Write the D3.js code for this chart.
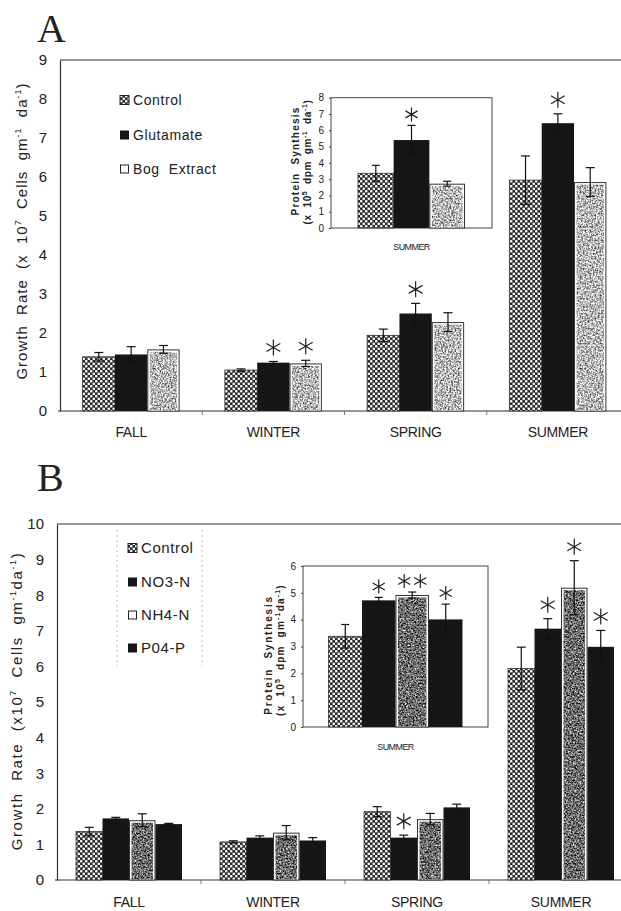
<!DOCTYPE html>
<html>
<head>
<meta charset="utf-8">
<script src="https://cdn.jsdelivr.net/npm/d3@7"></script>
<style>
  body { margin: 0; background: #fff; }
  svg { display: block; font-family: "Liberation Sans", Arial, sans-serif; }
  text { white-space: pre; fill: #222; }
</style>
</head>
<body>
<svg id="fig" width="621" height="911"></svg>
<script>
// ---- data ----
const seasons = ["FALL", "WINTER", "SPRING", "SUMMER"];
const summerOnly = ["SUMMER"];

// panel A
const namesA = ["Control", "Glutamate", "Bog  Extract"];
const controlA = [1.39, 1.05, 1.94, 5.92];
const controlErrA = [0.11, 0.03, 0.16, 0.62];
const glutamateA = [1.45, 1.24, 2.50, 7.38];
const glutamateErrA = [0.20, 0.03, 0.26, 0.24];
const bogA = [1.58, 1.22, 2.28, 5.87];
const bogErrA = [0.10, 0.08, 0.24, 0.37];
const starsA = [[0, 0, 0], [0, 1, 1], [0, 1, 0], [0, 1, 0]];
const yTicksA = [0, 1, 2, 3, 4, 5, 6, 7, 8, 9];

// panel A inset (protein synthesis, summer)
const insetMeansA = [3.36, 5.40, 2.72];
const insetErrsA = [0.49, 0.90, 0.15];
const insetStarsA = [[0, 1, 0]];
const insetTicksA = [0, 1, 2, 3, 4, 5, 6, 7, 8];

// panel B
const namesB = ["Control", "NO3-N", "NH4-N", "P04-P"];
const controlB = [1.36, 1.07, 1.92, 5.94];
const controlErrB = [0.12, 0.03, 0.14, 0.60];
const no3B = [1.73, 1.19, 1.19, 7.06];
const no3ErrB = [0.03, 0.05, 0.07, 0.28];
const nh4B = [1.68, 1.33, 1.71, 8.21];
const nh4ErrB = [0.18, 0.20, 0.16, 0.76];
const po4B = [1.57, 1.11, 2.04, 6.55];
const po4ErrB = [0.02, 0.08, 0.09, 0.46];
const starsB = [[0, 0, 0, 0], [0, 0, 0, 0], [0, 1, 0, 0], [0, 1, 1, 1]];
const yTicksB = [0, 1, 2, 3, 4, 5, 6, 7, 8, 9, 10];

// panel B inset
const insetMeansB = [3.38, 4.72, 4.92, 4.01];
const insetErrsB = [0.44, 0.11, 0.11, 0.57];
const insetStarsB = [[0, 1, 2, 1]];
const insetTicksB = [0, 1, 2, 3, 4, 5, 6];

const stylesA = ["check", "solid", "speckLight"];
const stylesB = ["check", "solid", "speckDark", "solid"];

var svg = d3.select("#fig");
var defs = svg.append("defs");

// crosshatch-ish texture for the control bars
var pat = defs.append("pattern").attr("id", "check")
  .attr("patternUnits", "userSpaceOnUse").attr("width", 5).attr("height", 5);
pat.append("rect").attr("width", 5).attr("height", 5).attr("fill", "#2a2a2a");
pat.append("circle").attr("cx", 1.25).attr("cy", 1.25).attr("r", 1.35).attr("fill", "#f4f4f4");
pat.append("circle").attr("cx", 3.75).attr("cy", 3.75).attr("r", 1.35).attr("fill", "#f4f4f4");

// speckled grey for bog extract / NH4
function speckFilter(id, gain, offset, seed) {
  var f = defs.append("filter").attr("id", id)
    .attr("x", 0).attr("y", 0).attr("width", 1).attr("height", 1)
    .attr("color-interpolation-filters", "sRGB");
  f.append("feTurbulence").attr("type", "fractalNoise")
    .attr("baseFrequency", 0.6).attr("numOctaves", 3).attr("seed", seed);
  var row = gain + " 0 0 0 " + offset;
  f.append("feColorMatrix").attr("type", "matrix")
    .attr("values", row + " " + row + " " + row + " 0 0 0 0 1");
  f.append("feComposite").attr("in2", "SourceGraphic").attr("operator", "in");
}
speckFilter("speckLight", 1.6, -0.08, 3);
speckFilter("speckDark", 1.6, -0.38, 7);

function asterisk(g, cx, cy, r) {
  var p = "";
  [90, 30, 150].forEach(function(a) {
    var dx = r * Math.cos(a * Math.PI / 180), dy = r * Math.sin(a * Math.PI / 180);
    p += "M" + (cx - dx) + "," + (cy - dy) + "L" + (cx + dx) + "," + (cy + dy);
  });
  g.append("path").attr("d", p).attr("stroke", "#222").attr("stroke-width", 1.2).attr("fill", "none");
}

function drawBar(g, style, x, y, w, h) {
  if (style == "check") {
    g.append("rect").attr("x", x).attr("y", y).attr("width", w).attr("height", h)
      .attr("fill", "url(#check)").attr("stroke", "#333").attr("stroke-width", 0.8);
  } else if (style == "solid") {
    g.append("rect").attr("x", x).attr("y", y).attr("width", w).attr("height", h)
      .attr("fill", "#161616");
  } else {
    g.append("rect").attr("x", x + 0.5).attr("y", y + 0.5).attr("width", w - 1).attr("height", h - 0.5)
      .attr("fill", "#fff").attr("stroke", "#333").attr("stroke-width", 1);
    g.append("rect").attr("x", x + 2.5).attr("y", y + 2.5).attr("width", w - 5).attr("height", Math.max(0, h - 3))
      .attr("fill", "#888").attr("filter", "url(#" + style + ")");
  }
}

// series: [{values, errs, style}], stars[cat][series]
function drawGroups(g, cats, series, stars, xScale, yScale, opt) {
  var inner = d3.scaleBand().domain(d3.range(series.length)).range([0, xScale.bandwidth()]);
  cats.forEach(function(c, ci) {
    series.forEach(function(s, si) {
      var bx = xScale(c) + inner(si), bw = inner.bandwidth();
      var v = s.values[ci], e = s.errs[ci];
      drawBar(g, s.style, bx, yScale(v), bw, yScale(0) - yScale(v));
      var cx = bx + bw / 2;
      var eb = g.append("g").attr("stroke", "#111").attr("stroke-width", 1.2);
      eb.append("line").attr("x1", cx).attr("x2", cx).attr("y1", yScale(v - e)).attr("y2", yScale(v + e));
      [v - e, v + e].forEach(function(t) {
        eb.append("line").attr("x1", cx - opt.cap).attr("x2", cx + opt.cap)
          .attr("y1", yScale(t)).attr("y2", yScale(t));
      });
      var n = stars[ci][si];
      for (var k = 0; k < n; k++) {
        var off = (k - (n - 1) / 2) * opt.starR * 2.3;
        asterisk(g, cx + off, yScale(v + e) - opt.starGap, opt.starR);
      }
    });
  });
}

// text with superscripts; the baseline drop rides on the next normal run
function richText(sel, parts, supSize, rise) {
  var pending = 0;
  parts.forEach(function(p) {
    var t = sel.append("tspan").text(p[0]);
    if (p[1]) {
      t.attr("dy", pending - rise).attr("font-size", supSize);
      pending = rise;
    } else {
      if (pending) t.attr("dy", pending);
      pending = 0;
    }
  });
}

function mainPanel(cfg) {
  var g = svg.append("g");
  var y = d3.scaleLinear().domain([0, cfg.ymax]).range([cfg.y0, cfg.y1]);
  var x = d3.scaleBand().domain(seasons).range(cfg.xr)
    .paddingInner(cfg.pad).paddingOuter(cfg.pad / 2);
  var ax = cfg.xr[0];

  g.append("text").attr("x", cfg.letterX).attr("y", cfg.letterY)
    .attr("font-family", "'Liberation Serif', 'DejaVu Serif', serif")
    .attr("font-size", 40).text(cfg.letter);

  // frame: top border, x axis line, boundary ticks
  g.append("line").attr("x1", ax).attr("x2", 621).attr("y1", y(cfg.ymax)).attr("y2", y(cfg.ymax))
    .attr("stroke", "#333").attr("stroke-width", 1.2);
  g.append("line").attr("x1", ax - 2).attr("x2", 621).attr("y1", y(0)).attr("y2", y(0))
    .attr("stroke", "#333").attr("stroke-width", 1.2);
  for (var i = 1; i < seasons.length; i++) {
    var bx = cfg.xr[0] + i * x.step();
    g.append("line").attr("x1", bx).attr("x2", bx).attr("y1", y(0)).attr("y2", y(0) + 4)
      .attr("stroke", "#777");
  }

  var yAxis = g.append("g").attr("transform", "translate(" + ax + ",0)")
    .call(d3.axisLeft(y).tickValues(cfg.ticks).tickSize(0).tickPadding(13).tickFormat(d3.format("d")));
  yAxis.select(".domain").attr("stroke", "#333").attr("stroke-width", 1.2);
  yAxis.selectAll("text").attr("font-size", 15).attr("fill", "#333")
    .attr("font-family", "'Liberation Sans', Arial, sans-serif");

  g.selectAll(".cat").data(seasons).enter().append("text")
    .attr("x", function(d) { return x(d) + x.bandwidth() / 2; })
    .attr("y", cfg.catY).attr("text-anchor", "middle")
    .attr("font-size", 14).attr("letter-spacing", -0.3).text(function(d) { return d; });

  var yl = g.append("text").attr("transform", "translate(" + cfg.ylx + "," + cfg.yly + ") rotate(-90)")
    .attr("text-anchor", "middle").attr("font-size", 15).attr("letter-spacing", cfg.ysp);
  richText(yl, cfg.ylabel, 9, 6);

  drawGroups(g.append("g"), seasons, cfg.series, cfg.stars, x, y, { cap: 4.5, starR: 8, starGap: 14 });

  // legend
  var lg = g.append("g");
  if (cfg.legendBox) {
    cfg.legendBox.forEach(function(lx) {
      lg.append("line").attr("x1", lx).attr("x2", lx).attr("y1", cfg.legendBoxY[0]).attr("y2", cfg.legendBoxY[1])
        .attr("stroke", "#bbb").attr("stroke-dasharray", "2,3");
    });
  }
  cfg.names.forEach(function(nm, i) {
    var yy = cfg.legendY[i];
    var st = cfg.series[i].style;
    var s = cfg.swatch;
    if (st == "check") {
      lg.append("rect").attr("x", cfg.legendX).attr("y", yy - s / 2).attr("width", s).attr("height", s)
        .attr("fill", "url(#check)").attr("stroke", "#222");
    } else if (st == "solid") {
      lg.append("rect").attr("x", cfg.legendX).attr("y", yy - s / 2).attr("width", s).attr("height", s)
        .attr("fill", "#161616");
    } else {
      lg.append("rect").attr("x", cfg.legendX + 0.5).attr("y", yy - s / 2 + 0.5).attr("width", s - 1).attr("height", s - 1)
        .attr("fill", "#fff").attr("stroke", "#222");
    }
    lg.append("text").attr("x", cfg.legendX + s + 4).attr("y", yy + 5)
      .attr("font-size", cfg.legendFont).attr("letter-spacing", 0.6).text(nm);
  });
  return g;
}

function insetPanel(cfg) {
  var g = svg.append("g");
  var y = d3.scaleLinear().domain([0, cfg.ymax]).range([cfg.y0, cfg.y1]);
  var x = d3.scaleBand().domain(summerOnly).range(cfg.xr)
    .paddingInner(cfg.pad).paddingOuter(cfg.pad / 2);

  g.append("rect").attr("x", cfg.xr[0]).attr("y", cfg.y1).attr("width", cfg.xr[1] - cfg.xr[0])
    .attr("height", cfg.y0 - cfg.y1).attr("fill", "#fff").attr("stroke", "#444").attr("stroke-width", 1);

  var yAxis = g.append("g").attr("transform", "translate(" + cfg.xr[0] + ",0)")
    .call(d3.axisLeft(y).tickValues(cfg.ticks).tickSize(2).tickPadding(5).tickFormat(d3.format("d")));
  yAxis.select(".domain").remove();
  yAxis.selectAll("line").attr("stroke", "#444");
  yAxis.selectAll("text").attr("font-size", 10).attr("fill", "#444");

  drawGroups(g.append("g"), summerOnly, cfg.series, cfg.stars, x, y, { cap: 4, starR: 7, starGap: 11 });

  g.append("text").attr("x", x("SUMMER") + x.bandwidth() / 2).attr("y", cfg.catY)
    .attr("text-anchor", "middle").attr("font-size", 9).attr("letter-spacing", -0.6).text("SUMMER");

  g.append("text").attr("transform", "translate(" + cfg.lx1 + "," + cfg.c1 + ") rotate(-90)")
    .attr("text-anchor", "middle").attr("font-size", 10).attr("font-weight", "bold")
    .attr("letter-spacing", cfg.sp1).text("Protein  Synthesis");
  var l2 = g.append("text").attr("transform", "translate(" + cfg.lx2 + "," + cfg.c2 + ") rotate(-90)")
    .attr("text-anchor", "middle").attr("font-size", 10).attr("font-weight", "bold")
    .attr("letter-spacing", cfg.sp2);
  richText(l2, cfg.label2, 7, 4);
}

mainPanel({
  letter: "A", letterX: 37, letterY: 42,
  ymax: 9, y0: 411, y1: 60, xr: [60, 629], pad: 0.318, ticks: yTicksA, catY: 437,
  ylx: 27, yly: 231, ysp: 1,
  ylabel: [["Growth  Rate  (x  10"], ["7", true], ["  Cells  gm"], ["-1", true], ["  da"], ["-1", true], [")"]],
  series: [
    { values: controlA, errs: controlErrA, style: stylesA[0] },
    { values: glutamateA, errs: glutamateErrA, style: stylesA[1] },
    { values: bogA, errs: bogErrA, style: stylesA[2] }
  ],
  stars: starsA, names: namesA,
  legendX: 120, legendY: [100, 135, 169], swatch: 9, legendFont: 14
});

insetPanel({
  ymax: 8, y0: 228, y1: 97.7, xr: [331, 492], pad: 0.335, ticks: insetTicksA, catY: 250,
  lx1: 299, lx2: 311, c1: 161, c2: 162, sp1: 1.2, sp2: 0.6,
  label2: [["(x  10"], ["5", true], ["  dpm  gm"], ["-1", true], ["  da"], ["-1", true], [")"]],
  series: [0, 1, 2].map(function(i) {
    return { values: [insetMeansA[i]], errs: [insetErrsA[i]], style: stylesA[i] };
  }),
  stars: insetStarsA
});

mainPanel({
  letter: "B", letterX: 37, letterY: 491,
  ymax: 10, y0: 880, y1: 524, xr: [57, 633], pad: 0.264, ticks: yTicksB, catY: 907,
  ylx: 22, yly: 701, ysp: 1.6,
  ylabel: [["Growth  Rate  (x10"], ["7", true], ["  Cells  gm"], ["-1", true], ["da"], ["-1", true], [")"]],
  series: [
    { values: controlB, errs: controlErrB, style: stylesB[0] },
    { values: no3B, errs: no3ErrB, style: stylesB[1] },
    { values: nh4B, errs: nh4ErrB, style: stylesB[2] },
    { values: po4B, errs: po4ErrB, style: stylesB[3] }
  ],
  stars: starsB, names: namesB,
  legendX: 128, legendY: [548, 582, 615, 648], swatch: 9, legendFont: 15,
  legendBox: [117, 202], legendBoxY: [530, 666]
});

insetPanel({
  ymax: 6, y0: 727, y1: 566, xr: [303, 488], pad: 0.276, ticks: insetTicksB, catY: 750,
  lx1: 272, lx2: 284, c1: 655, c2: 650, sp1: 1.8, sp2: 1.2,
  label2: [["(x  10"], ["5", true], ["  dpm  gm"], ["-1", true], ["da"], ["-1", true], [")"]],
  series: [0, 1, 2, 3].map(function(i) {
    return { values: [insetMeansB[i]], errs: [insetErrsB[i]], style: stylesB[i] };
  }),
  stars: insetStarsB
});
</script>
</body>
</html>
